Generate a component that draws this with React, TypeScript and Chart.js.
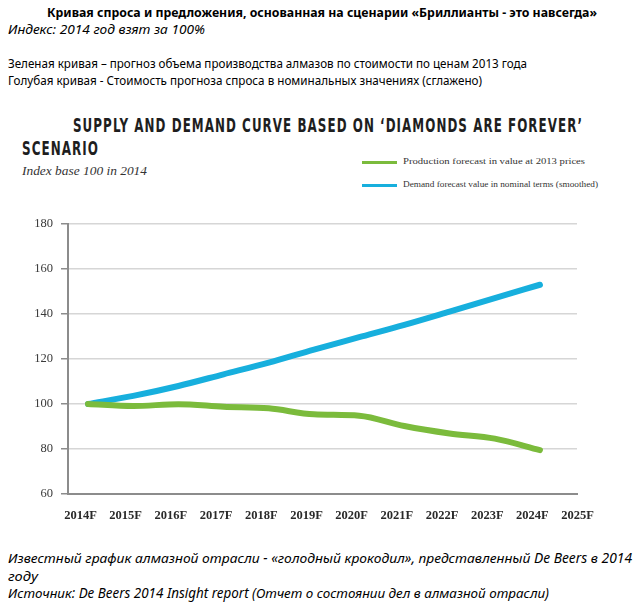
import React, { useEffect, useRef } from 'react';
import { Chart, registerables } from 'chart.js';

Chart.register(...registerables);

const xLabels = ['2014F', '2015F', '2016F', '2017F', '2018F', '2019F', '2020F', '2021F', '2022F', '2023F', '2024F', '2025F'];
const demandValues = [100, 103.6, 108, 113.2, 118.4, 124.2, 129.7, 135.2, 141.1, 147.1, 153];
const productionValues = [100, 99.1, 99.9, 98.8, 98.1, 95.4, 94.8, 90.2, 86.9, 84.6, 79.5];
const yMin = 60;
const yMax = 180;
const yStep = 20;

const demandLabel = 'Demand forecast value in nominal terms (smoothed)';
const productionLabel = 'Production forecast in value at 2013 prices';
const GREEN = '#7bbb3c';
const BLUE = '#17afdd';

type FitProps = {
  text: string;
  left: number;
  cy: number;
  width?: number;
  size: number;
  font: string;
  bold?: boolean;
  italic?: boolean;
  color?: string;
  letterSpacing?: number;
};

function FitText({ text, left, cy, width, size, font, bold, italic, color = '#000', letterSpacing = 0 }: FitProps) {
  const ref = useRef<HTMLSpanElement>(null);
  useEffect(() => {
    const measure = () => {
      const el = ref.current;
      if (!el || !width) return;
      el.style.transform = 'none';
      const w = el.getBoundingClientRect().width;
      if (w > 0) el.style.transform = `scaleX(${width / w})`;
    };
    measure();
    if ((document as any).fonts && (document as any).fonts.ready) {
      (document as any).fonts.ready.then(measure);
    }
  }, [text, width, size, font]);
  const lh = Math.round(size * 1.3);
  return (
    <span
      ref={ref}
      style={{
        position: 'absolute',
        left,
        top: cy - lh / 2,
        lineHeight: lh + 'px',
        fontSize: size,
        fontFamily: font,
        fontWeight: bold ? 700 : 400,
        fontStyle: italic ? 'italic' : 'normal',
        color,
        whiteSpace: 'nowrap',
        transformOrigin: '0 50%',
        letterSpacing,
      }}
    >
      {text}
    </span>
  );
}

function LineChart() {
  const canvasRef = useRef<HTMLCanvasElement>(null);
  useEffect(() => {
    const canvas = canvasRef.current;
    if (!canvas) return;
    const chart = new Chart(canvas, {
      type: 'line',
      data: {
        datasets: [
          {
            label: productionLabel,
            data: productionValues.map((v, i) => ({ x: i, y: v })),
            borderColor: GREEN,
            borderWidth: 6,
            pointRadius: 0,
            cubicInterpolationMode: 'monotone',
            borderCapStyle: 'round',
            borderJoinStyle: 'round',
            fill: false,
          },
          {
            label: demandLabel,
            data: demandValues.map((v, i) => ({ x: i, y: v })),
            borderColor: BLUE,
            borderWidth: 6,
            pointRadius: 0,
            cubicInterpolationMode: 'monotone',
            borderCapStyle: 'round',
            borderJoinStyle: 'round',
            fill: false,
          },
        ],
      },
      options: {
        responsive: false,
        animation: false,
        layout: { padding: { left: 0, right: 63, top: 24, bottom: 0 } },
        plugins: {
          legend: { display: false },
          tooltip: { enabled: false },
        },
        scales: {
          x: {
            type: 'linear',
            min: -0.4425,
            max: 10.82,
            afterBuildTicks: (scale: any) => {
              scale.ticks = xLabels.map((_, i) => ({ value: i }));
            },
            afterFit: (scale: any) => {
              scale.height = 36;
            },
            grid: { display: false, drawTicks: false },
            border: { display: true, color: '#8c8c8c', width: 2 },
            ticks: {
              autoSkip: false,
              maxRotation: 0,
              labelOffset: -7.5,
              padding: 14,
              color: '#2a2a2a',
              font: { family: '"Liberation Serif", "Times New Roman", serif', size: 12.5, weight: 'bold' },
              callback: (value: any) => xLabels[Number(value)] ?? '',
            },
          },
          y: {
            type: 'linear',
            min: yMin,
            max: yMax,
            afterFit: (scale: any) => {
              scale.width = 68;
            },
            grid: { color: '#d6d6d6', lineWidth: 1.5, tickLength: 7, tickColor: '#8c8c8c', tickWidth: 1.5 },
            border: { display: true, color: '#8c8c8c', width: 2 },
            ticks: {
              stepSize: yStep,
              padding: 8,
              color: '#3a3a3a',
              font: { family: '"Liberation Serif", "Times New Roman", serif', size: 12.5 },
            },
          },
        },
      } as any,
    });
    return () => chart.destroy();
  }, []);
  return <canvas ref={canvasRef} width={640} height={330} style={{ position: 'absolute', left: 0, top: 200, width: 640, height: 330 }} />;
}

const SANS = '"Noto Sans", "Liberation Sans", sans-serif';
const SERIF = '"Liberation Serif", "Times New Roman", serif';
const COND = '"DejaVu Sans Condensed", "DejaVu Sans", sans-serif';

export default function App() {
  return (
    <div style={{ position: 'absolute', left: 0, top: 0, width: 640, height: 611, background: '#fff', overflow: 'hidden' }}>
      <FitText text="Кривая спроса и предложения, основанная на сценарии «Бриллианты - это навсегда»" left={47} cy={12} width={550} size={13} font={SANS} bold />
      <FitText text="Индекс: 2014 год взят за 100%" left={8} cy={30} width={197} size={12.5} font={SANS} italic />
      <FitText text="Зеленая кривая – прогноз объема производства алмазов по стоимости по ценам 2013 года" left={8} cy={64} width={519} size={12} font={SANS} />
      <FitText text="Голубая кривая - Стоимость прогноза спроса в номинальных значениях (сглажено)" left={8} cy={81} width={474} size={12} font={SANS} />

      <FitText text="SUPPLY AND DEMAND CURVE BASED ON ‘DIAMONDS ARE FOREVER’" left={73} cy={125} width={510} size={19} font={COND} bold color="#1e1e1e" letterSpacing={1.5} />
      <FitText text="SCENARIO" left={22} cy={148} width={77} size={19} font={COND} bold color="#1e1e1e" letterSpacing={1.5} />
      <FitText text="Index base 100 in 2014" left={22} cy={171} width={125} size={13.5} font={SERIF} italic color="#333" />

      <div style={{ position: 'absolute', left: 362, top: 161, width: 35, height: 3, background: GREEN }} />
      <FitText text={productionLabel} left={403} cy={162} width={182} size={8} font={SERIF} color="#333" />
      <div style={{ position: 'absolute', left: 362, top: 184, width: 35, height: 3, background: BLUE }} />
      <FitText text={demandLabel} left={403} cy={185} width={195} size={8} font={SERIF} color="#333" />

      <LineChart />

      <FitText text="Известный график алмазной отрасли - «голодный крокодил», представленный De Beers в 2014" left={8} cy={558} width={624} size={13.5} font={SANS} italic />
      <FitText text="году" left={8} cy={576} width={30} size={13.5} font={SANS} italic />
      <FitText text="Источник: De Beers 2014 Insight report (Отчет о состоянии дел в алмазной отрасли)" left={8} cy={593} width={541} size={13.5} font={SANS} italic />
    </div>
  );
}
